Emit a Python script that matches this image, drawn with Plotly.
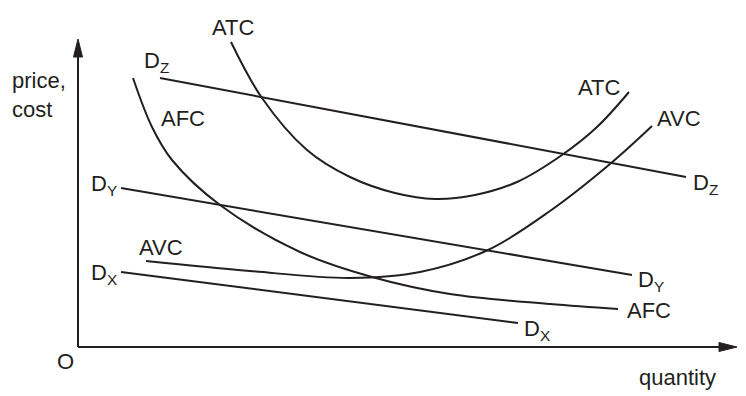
import plotly.graph_objects as go

# ---- data (chart units: quantity to the right, price/cost upward, origin at axes corner)
atc_q = [153, 184, 229, 272, 317, 357, 397, 439, 484, 519, 551]
atc_p = [305, 249, 197, 170, 154, 148, 152, 165, 192, 220, 255]

avc_q = [68, 172, 272, 342, 410, 472, 532, 574]
avc_p = [86, 76, 69, 75, 97, 136, 183, 221]

afc_q = [55, 74, 94, 142, 222, 294, 372, 472, 540]
afc_p = [269, 220, 187, 142, 95, 70, 53, 43, 38]

dz_q = [82, 608]
dz_p = [269, 170]
dy_q = [43, 554]
dy_p = [159, 72]
dx_q = [43, 440]
dx_p = [75, 24]

x_axis_end = 659
y_axis_end = 308

INK = "#231f20"
FONT = dict(family="Liberation Sans, Arial, sans-serif", size=22, color=INK)

fig = go.Figure()

for q, p, shape in [
    (atc_q, atc_p, "spline"),
    (avc_q, avc_p, "spline"),
    (afc_q, afc_p, "spline"),
    (dz_q, dz_p, "linear"),
    (dy_q, dy_p, "linear"),
    (dx_q, dx_p, "linear"),
]:
    fig.add_trace(go.Scatter(x=q, y=p, mode="lines",
                             line=dict(color=INK, width=2, shape=shape, smoothing=1.0),
                             hoverinfo="skip", showlegend=False))

# axes with arrowheads
head_len, head_half = 18, 4.5
shapes = [
    dict(type="line", x0=0, y0=0, x1=0, y1=y_axis_end - head_len + 2, line=dict(color=INK, width=2)),
    dict(type="line", x0=0, y0=0, x1=x_axis_end - head_len + 2, y1=0, line=dict(color=INK, width=2)),
    dict(type="path",
         path=f"M {-head_half},{y_axis_end-head_len} L 0,{y_axis_end} L {head_half},{y_axis_end-head_len} Z",
         fillcolor=INK, line=dict(color=INK, width=1)),
    dict(type="path",
         path=f"M {x_axis_end-head_len},{-head_half} L {x_axis_end},0 L {x_axis_end-head_len},{head_half} Z",
         fillcolor=INK, line=dict(color=INK, width=1)),
]

def lab(text, x, y, xanchor="center", yanchor="middle", align="left"):
    return dict(text=text, x=x, y=y, xref="x", yref="y", showarrow=False,
                xanchor=xanchor, yanchor=yanchor, align=align, font=FONT)

annotations = [
    lab("ATC", 155, 320),
    lab("D<sub>Z</sub>", 64, 285, xanchor="left"),
    lab("price,<br>cost", -68, 252, xanchor="left"),
    lab("AFC", 105, 229),
    lab("D<sub>Y</sub>", 11, 162, xanchor="left"),
    lab("AVC", 83, 100),
    lab("D<sub>X</sub>", 11, 73, xanchor="left"),
    lab("O", -13, -14),
    lab("quantity", 559, -30, xanchor="left"),
    lab("ATC", 521, 260),
    lab("AVC", 601, 229),
    lab("D<sub>Z</sub>", 613, 163, xanchor="left"),
    lab("D<sub>Y</sub>", 558, 66, xanchor="left"),
    lab("AFC", 571, 37),
    lab("D<sub>X</sub>", 444, 17, xanchor="left"),
]

fig.update_layout(
    width=746, height=396,
    margin=dict(l=0, r=0, t=0, b=0),
    paper_bgcolor="white", plot_bgcolor="white",
    xaxis=dict(range=[-78, 668], visible=False, fixedrange=True),
    yaxis=dict(range=[-49, 347], visible=False, fixedrange=True),
    shapes=shapes,
    annotations=annotations,
    showlegend=False,
)

fig.write_html("out.html", config={"displayModeBar": False})
